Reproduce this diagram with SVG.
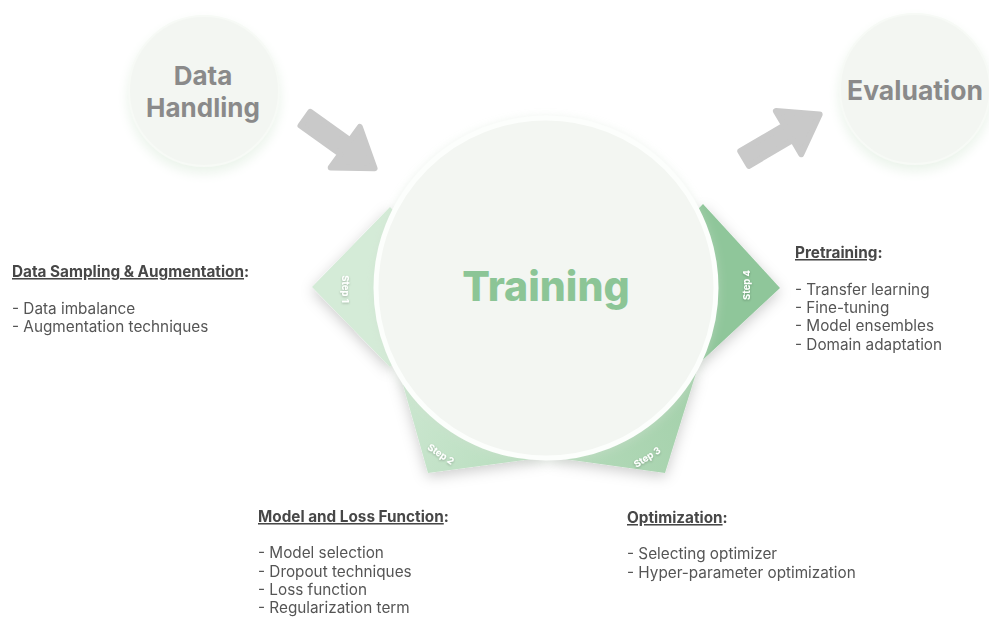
<svg xmlns="http://www.w3.org/2000/svg" width="989" height="617" viewBox="0 0 989 617">
  <defs>
    <filter id="triShadow" x="-40%" y="-40%" width="180%" height="180%">
      <feDropShadow dx="0" dy="4" stdDeviation="7" flood-color="#000" flood-opacity="0.2"/>
    </filter>
    <filter id="circGlow" x="-30%" y="-30%" width="160%" height="160%">
      <feDropShadow dx="0" dy="2" stdDeviation="5" flood-color="#cfdfcf" flood-opacity="0.45"/>
    </filter>
    <filter id="smallGlow" x="-30%" y="-30%" width="160%" height="160%">
      <feDropShadow dx="0" dy="6" stdDeviation="6" flood-color="#e2efe2" flood-opacity="0.7"/>
    </filter>
    <filter id="txtShadow" x="-20%" y="-50%" width="140%" height="200%">
      <feDropShadow dx="0" dy="1" stdDeviation="0.8" flood-color="#000" flood-opacity="0.25"/>
    </filter>
    <linearGradient id="g2" x1="0" y1="0" x2="1" y2="0.3">
      <stop offset="0" stop-color="#cde7d1"/>
      <stop offset="1" stop-color="#b9debf"/>
    </linearGradient>
    <linearGradient id="g3" x1="0" y1="0.3" x2="1" y2="0">
      <stop offset="0" stop-color="#b2d9b8"/>
      <stop offset="1" stop-color="#a3d0aa"/>
    </linearGradient>
    <style>
      .big { font-family: Inter, 'Liberation Sans', sans-serif; font-weight: 700; fill: #8a8a8a; text-anchor: middle; }
      .title { font-family: Inter, 'Liberation Sans', sans-serif; font-weight: 700; font-size: 15.3px; fill: #474747; }
      .item { font-family: Inter, 'Liberation Sans', sans-serif; font-weight: 400; font-size: 15.3px; fill: #555555; }
      .step { font-family: Inter, 'Liberation Sans', sans-serif; font-weight: 700; font-size: 9.5px; fill: #ffffff; text-anchor: middle; dominant-baseline: central; }
      .arrow { fill: #c9c9c9; stroke: #c9c9c9; stroke-width: 6; stroke-linejoin: round; }
      .smallc { fill: #f3f6f2; stroke: #f7faf6; stroke-width: 2; }
    </style>
  </defs>

  <rect width="989" height="617" fill="#ffffff"/>

  <!-- Small node: Data Handling -->
  <g id="node-data-handling">
    <circle class="smallc" cx="204" cy="91" r="75" filter="url(#smallGlow)"/>
    <text class="big" x="203" y="85" font-size="26">Data</text>
    <text class="big" x="203" y="117" font-size="26">Handling</text>
  </g>

  <!-- Small node: Evaluation -->
  <g id="node-evaluation">
    <circle class="smallc" cx="915" cy="89" r="75" filter="url(#smallGlow)"/>
    <text class="big" x="915" y="100" font-size="26.5">Evaluation</text>
  </g>

  <!-- Connectors -->
  <g id="connectors">
    <path class="arrow" transform="translate(303,117) rotate(35.6)" d="M3,-8.5 L52,-8.5 L52,-25 L88,0 L52,25 L52,8.5 L3,8.5 Z"/>
    <path class="arrow" transform="translate(742,160) rotate(-30.4)" d="M3,-8.5 L54,-8.5 L54,-25 L90,0 L54,25 L54,8.5 L3,8.5 Z"/>
  </g>

  <!-- Step shapes -->
  <g id="step1">
    <polygon points="312,287 390,207 470,287 390,367" fill="#d4ebd7" filter="url(#triShadow)"/>
  </g>
  <g id="step4">
    <polygon points="780,288 703,204 622,288 694,368" fill="#8fc69a" filter="url(#triShadow)"/>
  </g>
  <g id="step2">
    <polygon points="428,473 398,367 520,380 546,457" fill="url(#g2)" filter="url(#triShadow)"/>
  </g>
  <g id="step3">
    <polygon points="665,473 697,370 572,380 550,457" fill="url(#g3)" filter="url(#triShadow)"/>
  </g>

  <!-- Main node: Training -->
  <g id="node-training">
    <circle cx="546" cy="288" r="170" fill="#f3f6f2" stroke="#fcfefc" stroke-width="5" filter="url(#circGlow)"/>
    <text x="546" y="301" font-family="Inter, 'Liberation Sans', sans-serif" font-weight="800" font-size="41" fill="#8cc596" text-anchor="middle">Training</text>
  </g>

  <!-- Step labels -->
  <g id="step-labels" filter="url(#txtShadow)">
    <text class="step" transform="translate(345,289) rotate(90)">Step 1</text>
    <text class="step" transform="translate(441,454) rotate(34)">Step 2</text>
    <text class="step" transform="translate(647,457) rotate(-33)">Step 3</text>
    <text class="step" transform="translate(746,285) rotate(-90)">Step 4</text>
  </g>

  <!-- Text blocks -->
  <g id="text-data-sampling">
    <text class="title" x="12" y="277"><tspan text-decoration="underline">Data Sampling &amp; Augmentation</tspan>:</text>
    <text class="item" x="12" y="314">- Data imbalance</text>
    <text class="item" x="12" y="332">- Augmentation techniques</text>
  </g>

  <g id="text-pretraining">
    <text class="title" x="795" y="258"><tspan text-decoration="underline">Pretraining</tspan>:</text>
    <text class="item" x="795" y="295">- Transfer learning</text>
    <text class="item" x="795" y="313">- Fine-tuning</text>
    <text class="item" x="795" y="331">- Model ensembles</text>
    <text class="item" x="795" y="350">- Domain adaptation</text>
  </g>

  <g id="text-model-loss">
    <text class="title" x="258" y="522"><tspan text-decoration="underline">Model and Loss Function</tspan>:</text>
    <text class="item" x="258" y="558">- Model selection</text>
    <text class="item" x="258" y="577">- Dropout techniques</text>
    <text class="item" x="258" y="595">- Loss function</text>
    <text class="item" x="258" y="613">- Regularization term</text>
  </g>

  <g id="text-optimization">
    <text class="title" x="627" y="523"><tspan text-decoration="underline">Optimization</tspan>:</text>
    <text class="item" x="627" y="559">- Selecting optimizer</text>
    <text class="item" x="627" y="578">- Hyper-parameter optimization</text>
  </g>
</svg>
